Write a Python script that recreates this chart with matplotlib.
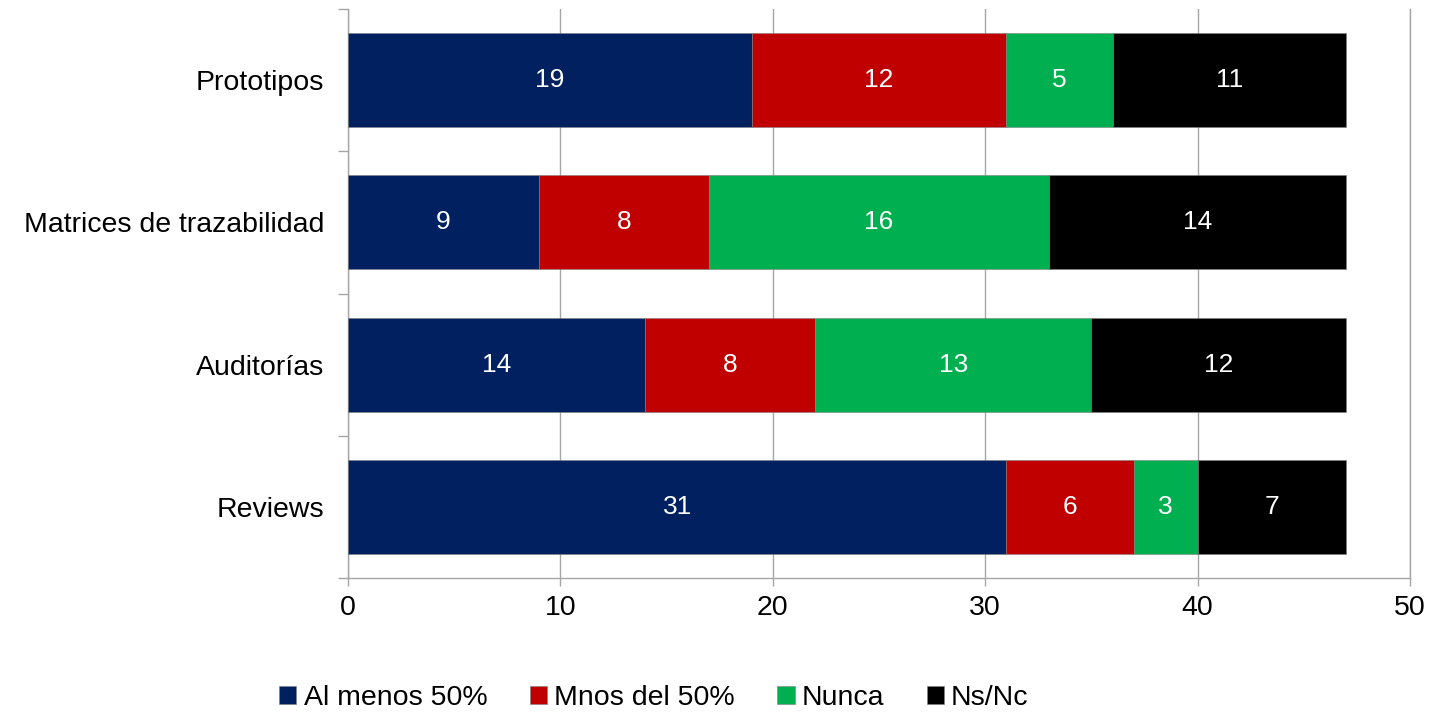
import matplotlib

matplotlib.use("Agg")
import matplotlib.pyplot as plt  # noqa: E402
import numpy as np  # noqa: E402

plt.rcParams["font.family"] = ["Liberation Sans", "DejaVu Sans"]

# ---------------------------------------------------------------- data
CATEGORIES = ["Reviews", "Auditorías", "Matrices de trazabilidad", "Prototipos"]
SERIES = ["Al menos 50%", "Mnos del 50%", "Nunca", "Ns/Nc"]
AL_MENOS = [31, 14, 9, 19]
MENOS = [6, 8, 8, 12]
NUNCA = [3, 13, 16, 5]
NSNC = [7, 12, 14, 11]
COLORS = ["#002060", "#c00000", "#00b050", "#000000"]
XTICKS = [0, 10, 20, 30, 40, 50]

GRID = "#a6a6a6"


def main():
    fig = plt.figure(figsize=(14.37, 7.14), dpi=100)
    ax = fig.add_axes([348 / 1437, 1 - 578 / 714, (1410 - 348) / 1437, (578 - 9) / 714])

    y = np.arange(len(CATEGORIES))
    left = np.zeros(len(CATEGORIES))
    for vals, col, name in zip((AL_MENOS, MENOS, NUNCA, NSNC), COLORS, SERIES):
        vals = np.array(vals, dtype=float)
        bars = ax.barh(y, vals, left=left, height=0.66, color=col, label=name,
                       edgecolor="#7f7f7f", linewidth=0.4, zorder=3)
        for b, v in zip(bars, vals):
            ax.text(b.get_x() + b.get_width() / 2, b.get_y() + b.get_height() / 2,
                    f"{int(v)}", color="white", ha="center", va="center",
                    fontsize=19, zorder=4)
        left += vals

    ax.set_xlim(0, 50)
    ax.set_ylim(-0.5, len(CATEGORIES) - 0.5)
    ax.set_xticks(XTICKS)
    ax.set_yticks(y)
    ax.set_yticklabels(CATEGORIES)
    ax.set_yticks(np.arange(-0.5, len(CATEGORIES)), minor=True)
    ax.tick_params(axis="y", which="major", length=0, pad=17, labelsize=20.5)
    ax.tick_params(axis="y", which="minor", length=7, color=GRID, width=1)
    ax.tick_params(axis="x", length=6, color=GRID, width=1, pad=6, labelsize=20.5)

    ax.grid(axis="x", color=GRID, lw=1, zorder=0)
    ax.set_axisbelow(True)
    ax.spines["top"].set_visible(False)
    for s in ("left", "bottom", "right"):
        ax.spines[s].set_color(GRID)
        ax.spines[s].set_linewidth(1)

    fig.legend(loc="center", bbox_to_anchor=(654 / 1437, 1 - 698 / 714), ncol=4,
               frameon=False, fontsize=20.5, handlelength=0.6, handleheight=0.6,
               handletextpad=0.25, columnspacing=1.5, borderaxespad=0)

    fig.savefig("out.png", dpi=100)
    plt.close(fig)


if __name__ == "__main__":
    main()
